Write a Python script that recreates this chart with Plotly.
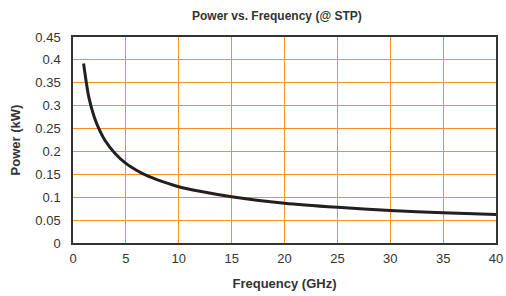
import plotly.graph_objects as go

# Data
frequency_ghz = [1, 1.5, 2, 2.5, 3, 4, 5, 6, 7, 8, 10, 12, 15, 20, 25, 30, 35, 40]
power_kw = [0.392, 0.318, 0.276, 0.247, 0.225, 0.195, 0.174, 0.159, 0.147, 0.138,
            0.123, 0.113, 0.101, 0.087, 0.078, 0.071, 0.066, 0.062]

x_ticks = [0, 5, 10, 15, 20, 25, 30, 35, 40]
y_ticks = [0, 0.05, 0.1, 0.15, 0.2, 0.25, 0.3, 0.35, 0.4, 0.45]
y_tick_labels = ["0", "0.05", "0.1", "0.15", "0.2", "0.25", "0.3", "0.35", "0.4", "0.45"]

FONT = "Liberation Sans, Arial, Helvetica, sans-serif"
GRID = "#F7901E"
TEXT = "#333333"

fig = go.Figure()
fig.add_trace(go.Scatter(
    x=frequency_ghz, y=power_kw, mode="lines",
    line=dict(color="#231F20", width=3, shape="spline", smoothing=0.8),
    showlegend=False, hoverinfo="skip",
))

fig.update_layout(
    width=506, height=296,
    margin=dict(l=73, r=10, t=37, b=53, autoexpand=False),
    paper_bgcolor="white", plot_bgcolor="white",
    font=dict(family=FONT, size=13, color=TEXT),
    title=dict(text="<b>Power vs. Frequency (@ STP)</b>", x=0.482, xref="paper",
               xanchor="center", y=0.945, yref="container", yanchor="middle",
               font=dict(family=FONT, size=12, color=TEXT)),
    xaxis=dict(
        range=[0, 40], tickmode="array", tickvals=x_ticks,
        showgrid=True, gridcolor=GRID, gridwidth=1,
        showline=True, linecolor="#333333", linewidth=1.5, mirror=True,
        ticks="", zeroline=False, ticklabelstandoff=3,
        tickfont=dict(family=FONT, size=13, color=TEXT),
        title=dict(text="<b>Frequency (GHz)</b>", standoff=14,
                   font=dict(family=FONT, size=13, color=TEXT)),
    ),
    yaxis=dict(
        range=[0, 0.45], tickmode="array", tickvals=y_ticks, ticktext=y_tick_labels,
        showgrid=True, gridcolor=GRID, gridwidth=1,
        showline=True, linecolor="#333333", linewidth=1.5, mirror=True,
        ticks="", zeroline=False, ticklabelstandoff=8,
        tickfont=dict(family=FONT, size=13, color=TEXT),
        title=dict(text="<b>Power (kW)</b>", standoff=12,
                   font=dict(family=FONT, size=13, color=TEXT)),
    ),
)

fig.write_html("out.html", config={"displayModeBar": False},
               post_script="document.body.style.margin='0';")
